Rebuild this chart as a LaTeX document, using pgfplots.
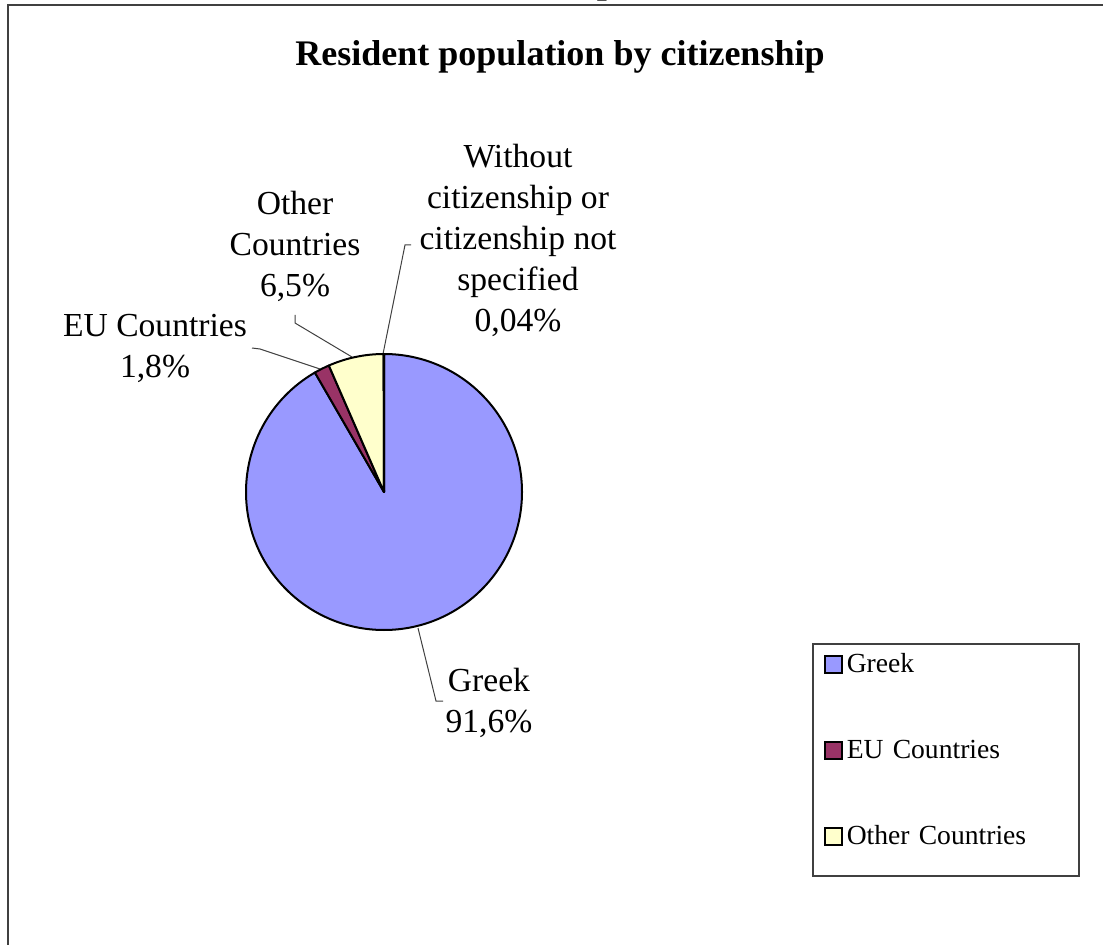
\documentclass[border=0pt]{standalone}
\usepackage{fontspec}
\setmainfont{Liberation Serif}
\usepackage{pgfplots}
\pgfplotsset{compat=1.18}

\definecolor{greek}{HTML}{9999FF}
\definecolor{eu}{HTML}{993366}
\definecolor{other}{HTML}{FFFFCC}
\definecolor{nospec}{HTML}{CCFFFF}
\definecolor{framegray}{HTML}{404040}

\pgfdeclareplotmark{blank}{}

\newcommand\lab{\fontsize{16.8}{20.5}\selectfont}

\begin{document}
\begin{tikzpicture}
\begin{axis}[
  name=ax, scale only axis, width=551.5pt, height=472pt,
  xmin=0, xmax=1103, ymin=0, ymax=944, hide axis, clip=false,
  legend style={at={(0.7362,0.0710)}, anchor=south west, draw=framegray,
    line width=0.75pt, fill=white, font=\fontsize{13.8}{15}\selectfont,
    inner xsep=5.5pt, inner ysep=2pt, row sep=26pt, column sep=0pt,
    cells={anchor=base west}},
  legend image code/.code={\draw[#1, line width=1pt] (0pt,-0.5pt) rectangle (8.5pt,8pt);},
]
% cx cy = pie centre (px), value in %, start = % already used before the slice
\addplot[scatter, only marks, mark=blank, forget plot,
  visualization depends on={value \thisrow{value} \as \pVal},
  visualization depends on={value \thisrow{start} \as \pStart},
  visualization depends on={value \thisrow{col} \as \pCol},
  scatter/@pre marker code/.code={%
    \begingroup
    \pgfkeys{/pgf/fpu=false}%
    \pgfmathsetmacro\angA{90-360/99.94*\pStart}%
    \pgfmathsetmacro\angB{90-360/99.94*(\pStart+\pVal)}%
    \draw[black, line width=1pt, line join=round, fill=\pCol]
      (0,0) -- (\angA:69pt) arc[start angle=\angA, end angle=\angB, radius=69pt] -- cycle;
    \endgroup
  },
  scatter/@post marker code/.code={},
] table[x=cx, y=cy] {
cx  cy  value start col
384 452 91.6  0     greek
384 452 1.8   91.6  eu
384 452 6.5   93.4  other
384 452 0.04  99.9  nospec
};

\addlegendimage{fill=greek, draw=black}
\addlegendentry[text width=108.5pt, text height=10pt, text depth=3pt]{Greek}
\addlegendimage{fill=eu, draw=black}
\addlegendentry[text width=108.5pt, text height=10pt, text depth=3pt]{EU Countries}
\addlegendimage{fill=other, draw=black}
\addlegendentry[text width=108.5pt, text height=10pt, text depth=12pt]{Other Countries}

% frame and cut text of the page above
\draw[framegray, line width=1pt] (axis cs:7.5,-5) -- (axis cs:7.5,938.5) -- (axis cs:1110,938.5);
\node[anchor=base, font=\fontsize{18}{20}\selectfont\bfseries] at (axis cs:607,950) {p};

% title
\node[anchor=base, font=\fontsize{18}{20}\selectfont\bfseries] at (axis cs:560,878)
  {Resident population by citizenship};

% leader lines
\draw[framegray, line width=0.5pt] (axis cs:411,699) -- (axis cs:405,699) -- (axis cs:383,590);
\draw[framegray, line width=0.5pt] (axis cs:295,629) -- (axis cs:295,621) -- (axis cs:352,587);
\draw[framegray, line width=0.5pt] (axis cs:252,596) -- (axis cs:260,595) -- (axis cs:320,575);
\draw[framegray, line width=0.5pt] (axis cs:418,316) -- (axis cs:436,243) -- (axis cs:443,243);

% slice labels (base = baseline of the last line)
\node[anchor=base, align=center, font=\lab] at (axis cs:518,612)
  {Without\\citizenship or\\citizenship not\\specified\\0,04\%};
\node[anchor=base, align=center, font=\lab] at (axis cs:295,647) {Other\\Countries\\6,5\%};
\node[anchor=base, align=center, font=\lab] at (axis cs:155,566) {EU Countries\\1,8\%};
\node[anchor=base, align=center, font=\lab] at (axis cs:489,212) {Greek\\91,6\%};
\end{axis}
\pgfresetboundingbox
\path[use as bounding box] (ax.south west) rectangle (ax.north east);
\end{tikzpicture}
\end{document}
